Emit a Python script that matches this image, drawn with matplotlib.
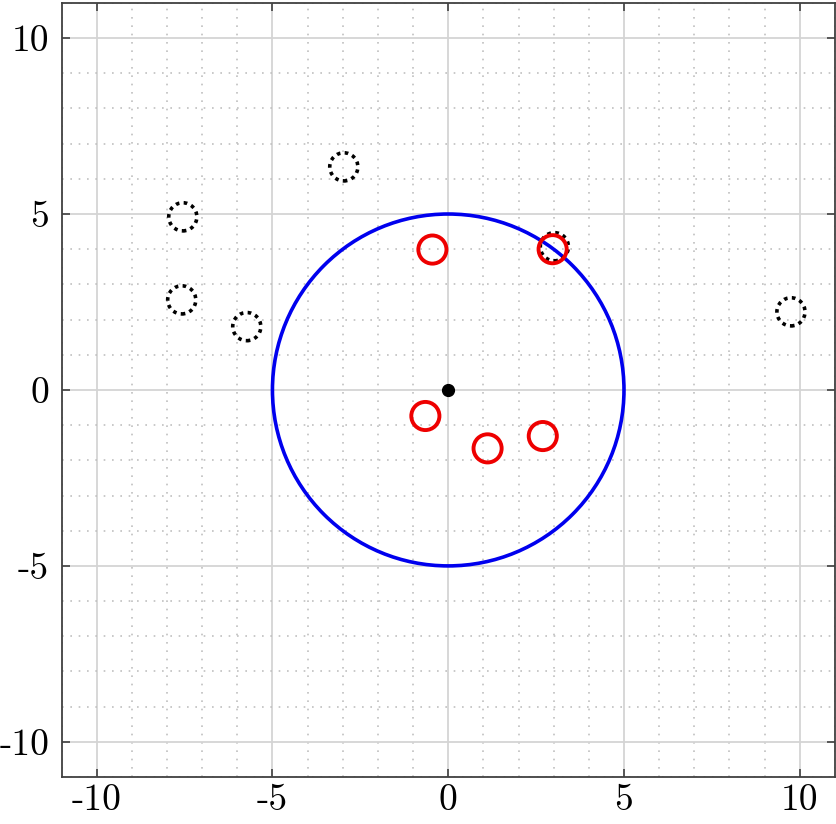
import matplotlib
matplotlib.use("Agg")
import matplotlib.pyplot as plt
from matplotlib.patches import Circle
from matplotlib.ticker import MultipleLocator

# points inside the radius (red) and outside (black dotted)
inside_x = [-0.45, 2.97, -0.65, 1.12, 2.69]
inside_y = [3.99, 4.00, -0.74, -1.66, -1.31]
outside_x = [-2.97, -7.55, -7.58, -5.73, 3.02, 9.75]
outside_y = [6.34, 4.92, 2.56, 1.80, 4.07, 2.22]
center = (0.0, 0.0)
radius = 5.0
marker_r = 0.4

ticks = [-10, -5, 0, 5, 10]
tick_labels = ["-10", "-5", "0", "5", "10"]

plt.rcParams["font.family"] = ["cmr10", "DejaVu Serif"]

fig = plt.figure(figsize=(8.37, 8.24), dpi=100)
ax = fig.add_axes([0.0735, 0.057, 0.924, 0.9395])
ax.set_xlim(-11, 11)
ax.set_ylim(-11, 11)

ax.set_xticks(ticks)
ax.set_yticks(ticks)
ax.set_xticklabels(tick_labels, fontsize=27)
ax.set_yticklabels(tick_labels, fontsize=27)
ax.xaxis.set_minor_locator(MultipleLocator(1))
ax.yaxis.set_minor_locator(MultipleLocator(1))
ax.tick_params(which="major", direction="in", length=6, width=1.2, color="#404040",
               top=True, right=True)
ax.tick_params(axis="y", pad=9)
ax.tick_params(axis="x", pad=5)
ax.tick_params(which="minor", length=0)
ax.grid(which="major", color="#d4d4d4", linewidth=1.3, linestyle="-")
ax.grid(which="minor", color="#c0c0c0", linewidth=1.2, linestyle=(0, (1, 4)))
ax.set_axisbelow(True)
for sp in ax.spines.values():
    sp.set_color("#404040")
    sp.set_linewidth(1.3)

ax.add_patch(Circle(center, radius, fill=False, edgecolor="#0000ee", linewidth=2.6, zorder=3))

for x, y in zip(outside_x, outside_y):
    ax.add_patch(Circle((x, y), marker_r, fill=False, edgecolor="black",
                        linewidth=2.6, linestyle=(0, (1, 1.2)), zorder=4))
for x, y in zip(inside_x, inside_y):
    ax.add_patch(Circle((x, y), marker_r, fill=False, edgecolor="#ee0000",
                        linewidth=2.8, zorder=5))

ax.plot([center[0]], [center[1]], "o", color="black", markersize=8.5, zorder=6)

fig.savefig("out.png", dpi=100)
